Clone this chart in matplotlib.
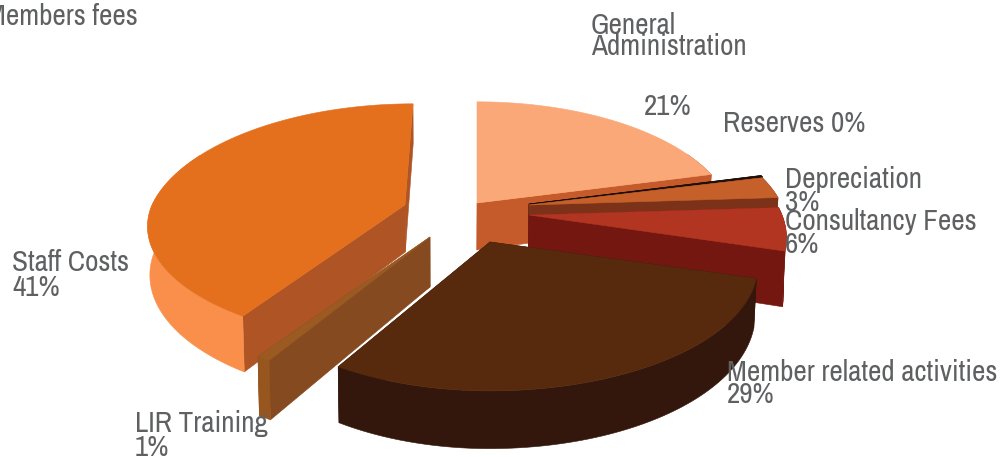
import numpy as np
import matplotlib
matplotlib.use("Agg")
import matplotlib.pyplot as plt
from matplotlib.patches import Polygon

# ---- data
categories = ["General\nAdministration", "Reserves", "Depreciation", "Consultancy Fees",
              "Member related activities", "LIR Training", "Staff Costs", "Members fees"]
values = [21, 0.2, 2.8, 5.6, 28.8, 0.7, 40.9, 0]
pct_labels = ["21%", "0%", "3%", "6%", "29%", "1%", "41%", ""]

# ---- styles and layout (pixels of the 1005x457 canvas)
W, H = 1005, 457
top_colors = ["#FAA877", "#1E0F08", "#C6602A", "#B23521", "#57290D", "#9A5A22", "#E4701E", "#E4701E"]
wall_colors = ["#C55A2B", "#1E0F08", "#7C3218", "#741710", "#33170C", "#98561F", "#F98F4A", "#F98F4A"]
cut_colors = ["#C55A2B", "#1E0F08", "#7C3218", "#741710", "#33170C", "#854A1F", "#AE5425", "#AE5425"]
center = (440, 220)
explode = [(37, -17), (89, -16), (89, -15), (89, -5), (50, 22), (-10, 17), (-35, -15), (-35, -15)]
rx_right = [1.0, 1.0, 1.0, 1.0, 1.04, 1.0, 1.0, 1.0]
rx_left = [1.0, 1.0, 1.0, 1.0, 1.0, 1.06, 1.0, 1.0]
ry_front = [1.0, 1.0, 1.0, 1.0, 1.01, 1.0, 0.93, 1.0]
depth_scale = [1.0, 1.0, 1.0, 1.12, 1.0, 1.06, 1.0, 1.0]
back_lean = [0, -8, -8, 0, 0, 0, 8, 8]
RX, RY, PERSP, DEPTH, SHRINK = 253, 120, 0.186, 47, 0.008
VX = 440
FULL_BACK = 1 - 1 / (1 + PERSP)

label_pos = [(591, 55), (723, 132), (785, 211), (785, 253), (727, 403), (135, 456), (12, 296), (-14, 25)]
label_spacing = [0.75, 1, 0.81, 0.81, 0.77, 0.88, 0.91, 1]
pct_pos_general = (644, 115)
FS = 21
TXT = "#5F6062"

plt.rcParams["font.family"] = ["Archivo Narrow", "Roboto Condensed", "Liberation Sans Narrow", "Liberation Sans"]
fig = plt.figure(figsize=(W / 100, H / 100), dpi=100)
ax = fig.add_axes([0, 0, 1, 1])
ax.set_xlim(0, W)
ax.set_ylim(H, 0)
ax.axis("off")


def project(theta, r, apex, lower, i):
    X, Y = r * np.sin(theta), -r * np.cos(theta)
    p = 1 / (1 - PERSP * Y)
    rx = np.where(X > 0, rx_right[i], rx_left[i])
    ry = np.where(Y > 0, ry_front[i], 1.0)
    sx = apex[0] + RX * rx * X * p + back_lean[i] * (1 - np.minimum(p, 1)) / FULL_BACK
    sy = apex[1] + RY * ry * Y * p
    if lower:
        sy = sy + DEPTH * depth_scale[i] * p
        sx = sx + (VX - sx) * SHRINK
    return np.column_stack([sx, sy])


def poly(pts, color, z):
    ax.add_patch(Polygon(pts, closed=True, facecolor=color, edgecolor=color, lw=0.4, zorder=z))


def cut_face(tc, lc, t, l, color, z):
    u, v = t - tc, lc - tc
    if abs(u[0] * v[1] - u[1] * v[0]) > 100:
        poly(np.vstack([tc, t, l, lc]), color, z)


total = sum(values)
edges = np.cumsum([0] + values) / total * 2 * np.pi
draw_order = [0, 6, 1, 2, 3, 5, 4]
for z, i in enumerate(draw_order):
    apex = (center[0] + explode[i][0], center[1] + explode[i][1])
    th = np.linspace(edges[i], edges[i + 1], 80)
    top_arc = project(th, 1, apex, False, i)
    low_arc = project(th, 1, apex, True, i)
    top_c = project(np.array([0.0]), 0, apex, False, i)[0]
    low_c = project(np.array([0.0]), 0, apex, True, i)[0]
    base = z * 10
    cut_face(top_c, low_c, top_arc[0], low_arc[0], cut_colors[i], base)
    cut_face(top_c, low_c, top_arc[-1], low_arc[-1], cut_colors[i], base + 1)
    vis = -np.cos(th) > -0.45
    if vis.sum() > 1:
        poly(np.vstack([top_arc[vis], low_arc[vis][::-1]]), wall_colors[i], base + 2)
    poly(np.vstack([top_c, top_arc]), top_colors[i], base + 3)

for i, name in enumerate(categories):
    if i == 0:
        txt = name
    elif i == 1:
        txt = f"{name} {pct_labels[i]}"
    elif pct_labels[i]:
        txt = f"{name}\n{pct_labels[i]}"
    else:
        txt = name
    ax.text(label_pos[i][0], label_pos[i][1], txt, fontsize=FS, color=TXT, ha="left",
            va="baseline", linespacing=label_spacing[i], zorder=200)
ax.text(pct_pos_general[0], pct_pos_general[1], pct_labels[0], fontsize=FS, color=TXT,
        ha="left", va="baseline", zorder=200)

fig.savefig("out.png", dpi=100)
